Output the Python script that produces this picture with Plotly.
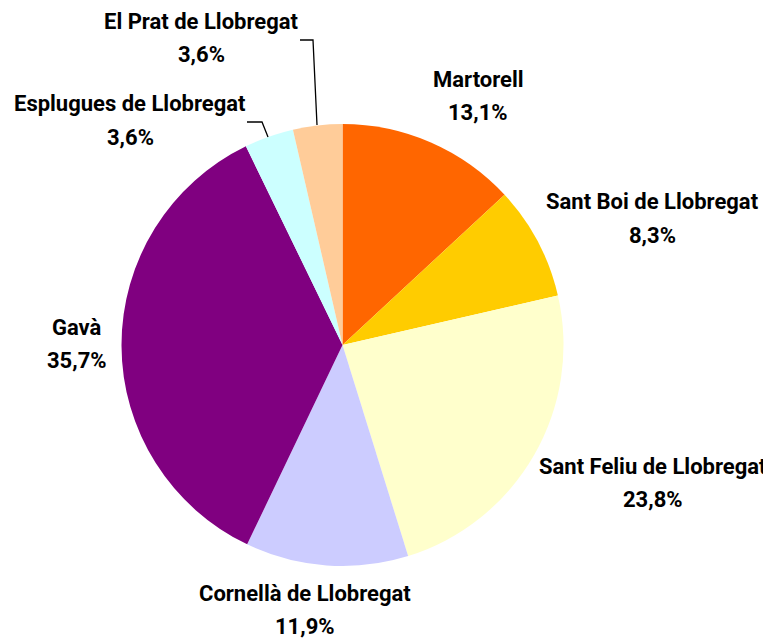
import plotly.graph_objects as go

labels = ["Martorell", "Sant Boi de Llobregat", "Sant Feliu de Llobregat",
          "Cornellà de Llobregat", "Gavà", "Esplugues de Llobregat", "El Prat de Llobregat"]
values = [13.1, 8.3, 23.8, 11.9, 35.7, 3.6, 3.6]
colors = ["#FF6600", "#FFCC00", "#FFFFCC", "#CCCCFF", "#800080", "#CCFFFF", "#FFCC99"]

# label anchor positions in page pixels (centre of the name line)
label_pos = [(478, 79), (652, 202), (653, 466), (305, 593), (77, 327), (130, 104), (201, 22)]
line_gap = 33

W, H = 771, 639
OFF = 8  # default page body margin
FONT = "Roboto, Liberation Sans, Arial, sans-serif"


def px(x):
    return (x - OFF) / W


def py(y):
    return 1 - (y - OFF) / H


fig = go.Figure(go.Pie(
    labels=labels, values=values, sort=False, direction="clockwise", rotation=0,
    marker=dict(colors=colors, line=dict(width=0)),
    textinfo="none", hoverinfo="label+percent", showlegend=False,
    domain=dict(x=[px(121.5), px(563.5)], y=[py(566.5), py(123.5)]),
))

annotations = []
for lab, v, (ax, ay) in zip(labels, values, label_pos):
    pct = f"{v:.1f}".replace(".", ",") + "%"
    for txt, yy in ((lab, ay), (pct, ay + line_gap)):
        annotations.append(dict(
            x=px(ax), y=py(yy), xref="paper", yref="paper",
            text=f"<b>{txt}</b>", showarrow=False, xanchor="center", yanchor="middle",
            font=dict(family=FONT, size=22, color="black"),
        ))

shapes = [
    dict(type="path", xref="paper", yref="paper",
         path=f"M {px(300)} {py(40)} L {px(313)} {py(40)} L {px(317)} {py(125)}",
         line=dict(color="black", width=1.3)),
    dict(type="path", xref="paper", yref="paper",
         path=f"M {px(247)} {py(122)} L {px(262)} {py(122)} L {px(268)} {py(137)}",
         line=dict(color="black", width=1.3)),
]

fig.update_layout(
    width=W, height=H, margin=dict(l=0, r=0, t=0, b=0),
    paper_bgcolor="white", plot_bgcolor="white",
    annotations=annotations, shapes=shapes,
)

fig.write_html("out.html")
